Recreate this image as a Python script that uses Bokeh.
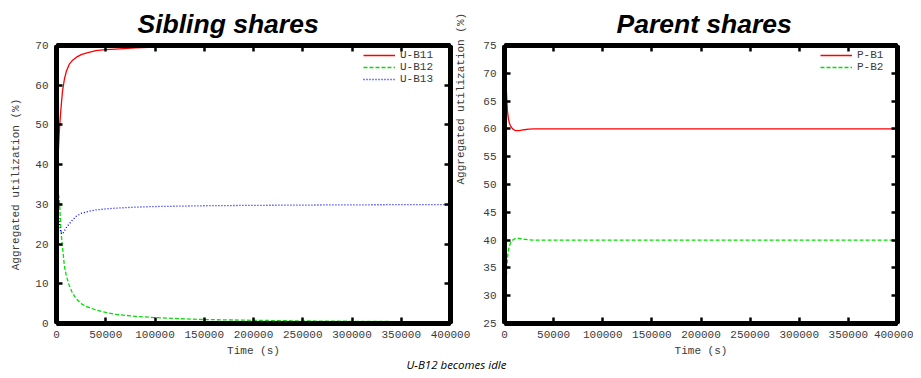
import math
from bokeh.plotting import figure
from bokeh.models import (Range1d, LinearAxis, FixedTicker, CustomJSTickFormatter,
                          Legend, LegendItem, Div)
from bokeh.layouts import row, column
from bokeh.embed import file_html
from bokeh.resources import INLINE

# ---------------- data ----------------
t_u = [0, 1000, 2000, 3000, 4000, 5000, 6000, 8000, 10000, 13000, 16000, 20000,
       25000, 30000, 40000, 50000, 60000, 80000, 100000, 125000, 150000, 200000,
       250000, 300000, 350000, 400000]
u_b11 = [37.0, 39.5, 44.0, 49.0, 52.5, 55.5, 58.3, 61.5, 63.5, 65.3, 66.2, 67.0,
         67.7, 68.1, 68.7, 68.95, 69.1, 69.4, 69.6, 69.7, 69.75, 69.85,
         69.9, 69.92, 69.94, 69.95]
u_b12 = [34.0, 33.5, 32.5, 31.0, 26.0, 22.0, 19.5, 14.5, 12.0, 9.5, 7.8, 6.2,
         5.0, 4.3, 3.4, 2.8, 2.3, 1.8, 1.5, 1.2, 1.0, 0.8,
         0.65, 0.55, 0.48, 0.42]
u_b13 = [29.5, 28.5, 27.0, 25.0, 23.5, 22.7, 22.5, 23.3, 24.2, 25.1, 26.0, 27.0,
         27.7, 28.1, 28.6, 28.85, 29.05, 29.3, 29.45, 29.55, 29.65, 29.75,
         29.82, 29.88, 29.92, 29.95]

t_p = [0, 1000, 2000, 3000, 4000, 5000, 6000, 7000, 8000, 10000, 12000, 15000,
       20000, 25000, 30000, 40000, 60000, 100000, 200000, 300000, 400000]
p_b1 = [75.5, 70.5, 66.5, 63.2, 61.8, 61.0, 60.6, 60.3, 60.05, 59.8, 59.7, 59.7,
        59.85, 59.95, 60.0, 60.0, 60.0, 60.0, 60.0, 60.0, 60.0]
p_b2 = [25.0, 29.5, 33.8, 36.8, 38.2, 39.0, 39.4, 39.7, 39.95, 40.2, 40.3, 40.3,
        40.15, 40.05, 40.0, 40.0, 40.0, 40.0, 40.0, 40.0, 40.0]

x_ticks = [0, 50000, 100000, 150000, 200000, 250000, 300000, 350000, 400000]
x_tick_labels = ["0", "50000", "100000", "150000", "200000", "250000",
                 "300000", "350000", "400000"]
y_ticks_u = [0, 10, 20, 30, 40, 50, 60, 70]
y_ticks_p = [25, 30, 35, 40, 45, 50, 55, 60, 65, 70, 75]

MONO = "Liberation Mono"
TICK_COLOR = "#3a3a3a"
FRAME_COLOR = "black"
YLABEL = "Aggregated utilization (%)"
XLABEL = "Time (s)"


def blank_formatter():
    return CustomJSTickFormatter(code="return ''")


def style_axis(ax, ticks, labels=None):
    ax.ticker = FixedTicker(ticks=ticks)
    ax.axis_line_color = FRAME_COLOR
    ax.axis_line_width = 5
    ax.major_tick_in = 6
    ax.major_tick_out = 0
    ax.major_tick_line_width = 2.5
    ax.major_tick_line_color = FRAME_COLOR
    ax.minor_tick_line_color = None
    ax.major_label_text_font = MONO
    ax.major_label_text_font_size = "11px"
    ax.major_label_text_color = TICK_COLOR
    ax.axis_label_text_font = MONO
    ax.axis_label_text_font_size = "11px"
    ax.axis_label_text_font_style = "normal"
    ax.axis_label_text_color = TICK_COLOR
    if labels is not None:
        ax.major_label_overrides = {t: l for t, l in zip(ticks, labels)}


def make_fig(width, ylo, yhi, yticks, bl, br, title, title_offset):
    p = figure(width=width, height=360, x_range=Range1d(0, 400000),
               y_range=Range1d(ylo, yhi), output_backend="svg",
               toolbar_location=None, min_border_left=bl, min_border_right=br,
               min_border_top=45, min_border_bottom=37)
    p.xgrid.visible = False
    p.ygrid.visible = False
    p.outline_line_color = FRAME_COLOR
    p.outline_line_width = 3
    p.title.text = title
    p.title.text_font = "Liberation Sans"
    p.title.text_font_style = "bold italic"
    p.title.text_font_size = "26.5px"
    p.title.text_color = "black"
    p.title.align = "left"
    p.title.offset = title_offset
    p.title.standoff = 13

    xa = p.xaxis[0]
    style_axis(xa, x_ticks, x_tick_labels)
    xa.axis_label = XLABEL
    xa.major_label_standoff = 7
    xa.axis_label_standoff = 4

    ya = p.yaxis[0]
    style_axis(ya, yticks, [str(v) for v in yticks])
    ya.major_label_standoff = 8
    ya.axis_label_standoff = 10

    top = LinearAxis()
    style_axis(top, x_ticks)
    top.formatter = blank_formatter()
    top.major_label_standoff = 0
    p.add_layout(top, "above")

    right = LinearAxis()
    style_axis(right, yticks)
    right.formatter = blank_formatter()
    right.major_label_standoff = 0
    p.add_layout(right, "right")
    return p, ya, right


def style_legend(leg, label_width):
    leg.location = "top_right"
    leg.border_line_color = None
    leg.background_fill_alpha = 0
    leg.label_text_font = MONO
    leg.label_text_font_size = "11px"
    leg.label_text_color = TICK_COLOR
    leg.glyph_width = 32
    leg.glyph_height = 12
    leg.label_height = 12
    leg.label_width = label_width
    leg.label_standoff = 5
    leg.spacing = 0
    leg.padding = 4
    leg.margin = 4


# ---------------- left: sibling shares ----------------
p1, ya1, right1 = make_fig(475, 0, 70, y_ticks_u, 56, 24, "Sibling shares", 81)
ya1.axis_label = YLABEL
# label of the right panel's y axis lives in the gap between the two panels
right1.axis_label = YLABEL
right1.axis_label_standoff = 10
right1.axis_label_orientation = math.pi / 2

r11 = p1.line(t_u, u_b11, line_color="#ff0000", line_width=1.3)
r12 = p1.line(t_u, u_b12, line_color="#00e000", line_width=1.3, line_dash="4 2")
r13 = p1.line(t_u, u_b13, line_color="#0000ff", line_width=1.3, line_dash="1 2")
leg1 = Legend(items=[LegendItem(label="U-B11", renderers=[r11]),
                     LegendItem(label="U-B12", renderers=[r12]),
                     LegendItem(label="U-B13", renderers=[r13])])
style_legend(leg1, 46)
p1.add_layout(leg1)

# ---------------- right: parent shares ----------------
p2, ya2, right2 = make_fig(438, 25, 75, y_ticks_p, 29, 16, "Parent shares", 112)

r21 = p2.line(t_p, p_b1, line_color="#ff0000", line_width=1.3)
r22 = p2.line(t_p, p_b2, line_color="#00e000", line_width=1.3, line_dash="4 2")
leg2 = Legend(items=[LegendItem(label="P-B1", renderers=[r21]),
                     LegendItem(label="P-B2", renderers=[r22])])
style_legend(leg2, 36)
p2.add_layout(leg2)

caption = Div(text="U-B12 becomes idle", width=913, height=10, margin=(0, 0, 0, 0),
              styles={"text-align": "center", "font-family": "Open Sans",
                      "font-style": "italic", "font-size": "11.5px",
                      "line-height": "10px", "color": "black", "width": "913px"})

layout = column(row(p1, p2), caption)
open("out.html", "w").write(file_html(layout, INLINE))
